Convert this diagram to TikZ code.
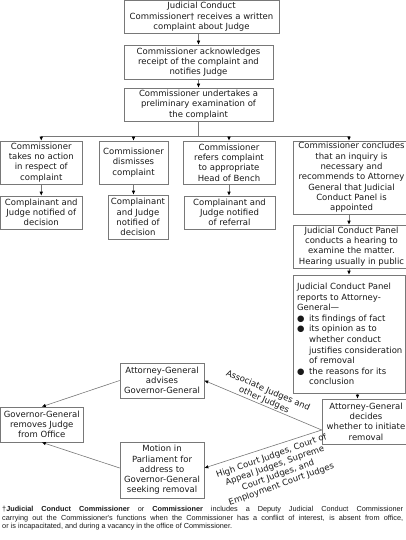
\documentclass[tikz,border=0pt]{standalone}
\usepackage{fontspec}
\setmainfont{DejaVu Sans}
\newfontfamily\footfont{Liberation Sans}
\usetikzlibrary{arrows.meta,calc}
\definecolor{linegray}{RGB}{120,120,120}
\definecolor{txt}{RGB}{25,25,25}
\begin{document}
\begin{tikzpicture}[x=1pt,y=-1pt,
  box/.style={draw=linegray, line width=0.6pt, align=center, inner sep=0pt, text=txt,
    font=\fontsize{8.5}{10.3}\selectfont},
  ln/.style={draw=linegray, line width=0.6pt},
  arr/.style={draw=linegray, line width=0.6pt, -{Latex[length=4pt,width=3.5pt,color=black]}},
  lbl/.style={font=\fontsize{8.5}{10}\selectfont, align=center, inner sep=1pt, text=txt}]
\useasboundingbox (0,0) rectangle (406,540);

\node[box, minimum width=155pt, minimum height=32.5pt] (b1) at (201.5,16.75)
  {Judicial Conduct\\Commissioner† receives a written\\complaint about Judge};
\node[box, minimum width=149pt, minimum height=34pt] (b2) at (198.5,62)
  {Commissioner acknowledges\\receipt of the complaint and\\notifies Judge};
\node[box, minimum width=149pt, minimum height=33pt] (b3) at (198.5,104.5)
  {Commissioner undertakes a\\preliminary examination of\\the complaint};

\node[box, minimum width=81.5pt, minimum height=43pt] (a1) at (41.25,162.5)
  {Commissioner\\takes no action\\in respect of\\complaint};
\node[box, minimum width=81.5pt, minimum height=33pt] (a2) at (41.25,212.5)
  {Complainant and\\Judge notified of\\decision};
\node[box, minimum width=69pt, minimum height=43pt] (bb1) at (133.5,162.5)
  {Commissioner\\dismisses\\complaint};
\node[box, minimum width=60pt, minimum height=44pt] (bb2) at (138,217)
  {Complainant\\and Judge\\notified of\\decision};
\node[box, minimum width=92pt, minimum height=43pt] (c1) at (229,162.5)
  {Commissioner\\refers complaint\\to appropriate\\Head of Bench};
\node[box, minimum width=91pt, minimum height=33pt] (c2) at (229.5,212.5)
  {Complainant and\\Judge notified\\of referral};
\node[box, minimum width=117pt, minimum height=73pt] (d1) at (351.5,177.5)
  {Commissioner concludes\\that an inquiry is\\necessary and\\recommends to Attorney\\General that Judicial\\Conduct Panel is\\appointed};
\node[box, minimum width=117pt, minimum height=43pt] (e1) at (351.5,246.5)
  {Judicial Conduct Panel\\conducts a hearing to\\examine the matter.\\Hearing usually in public};
\node[box, minimum width=112.5pt, minimum height=118pt, align=left, font=\fontsize{8.5}{10.6}\selectfont] (f1) at (349.25,334)
  {\hspace*{1pt}Judicial Conduct Panel\\
   \hspace*{1pt}reports to Attorney-\\
   \hspace*{1pt}General—\\
   \hspace*{1pt}\makebox[12pt][l]{●}its findings of fact\\
   \hspace*{1pt}\makebox[12pt][l]{●}its opinion as to\\
   \hspace*{13pt}whether conduct\\
   \hspace*{13pt}justifies consideration\\
   \hspace*{13pt}of removal\\
   \hspace*{1pt}\makebox[12pt][l]{●}the reasons for its\\
   \hspace*{13pt}conclusion};
\node[box, minimum width=88pt, minimum height=45pt] (g1) at (366,421.5)
  {Attorney-General\\decides\\whether to initiate\\removal};
\node[box, minimum width=84pt, minimum height=35pt] (h1) at (162,380.5)
  {Attorney-General\\advises\\Governor-General};
\node[box, minimum width=82.5pt, minimum height=35pt] (i1) at (41.75,424.5)
  {Governor-General\\removes Judge\\from Office};
\node[box, minimum width=84pt, minimum height=56pt] (j1) at (162,470)
  {Motion in\\Parliament for\\address to\\Governor-General\\seeking removal};

% top chain
\draw[arr] (b1.south -| b2.north) -- (b2.north);
\draw[arr] (b2.south) -- (b3.north);
\coordinate (br) at (198.5,136);
\coordinate (dx) at ($(d1.north)+(-2.5,0)$);
\draw[ln] (b3.south) -- (br);
\draw[ln] (a1.north |- br) -- (dx |- br);
\draw[arr] (a1.north |- br) -- (a1.north);
\draw[arr] (bb1.north |- br) -- (bb1.north);
\draw[arr] (c1.north |- br) -- (c1.north);
\draw[arr] (dx |- br) -- (dx);

% second row
\draw[arr] (a1.south) -- (a2.north);
\draw[arr] (bb1.south) -- (bb1.south |- bb2.north);
\draw[arr] (c1.south) -- (c1.south |- c2.north);
\draw[arr] (dx |- d1.south) -- (dx |- e1.north);
\draw[arr] (dx |- e1.south) -- (dx |- f1.north);
\coordinate (fg) at (357.5,0);
\draw[arr] (fg |- f1.south) -- (fg |- g1.north);

% bottom
\coordinate (gs) at ($(g1.west)+(0,8.5)$);
\draw[arr] (gs) -- (h1.east);
\draw[arr] (gs) -- ($(j1.east)+(0,-2)$);
\node[lbl, rotate=-23.5] (l1) at (266,395.5) {Associate Judges and\\other Judges};
\node[lbl, rotate=19.5] (l2) at (276.5,470.5) {High Court Judges, Court of\\Appeal Judges, Supreme\\Court Judges, and\\Employment Court Judges};
\draw[arr] (h1.west) -- (i1.north);
\draw[arr] ($(j1.west)+(0,-2)$) -- (i1.south);

% footnote
\node[anchor=north west, text width=401pt, align=justify, inner sep=0pt, text=txt,
  font=\footfont\fontsize{7.3}{8.7}\selectfont] (fn) at (2,506)
  {†\textbf{Judicial Conduct Commissioner} or \textbf{Commissioner} includes a Deputy Judicial Conduct Commissioner\linebreak
   carrying out the Commissioner's functions when the Commissioner has a conflict of interest, is absent from office,\linebreak
   or is incapacitated, and during a vacancy in the office of Commissioner.\par};
\end{tikzpicture}
\end{document}
